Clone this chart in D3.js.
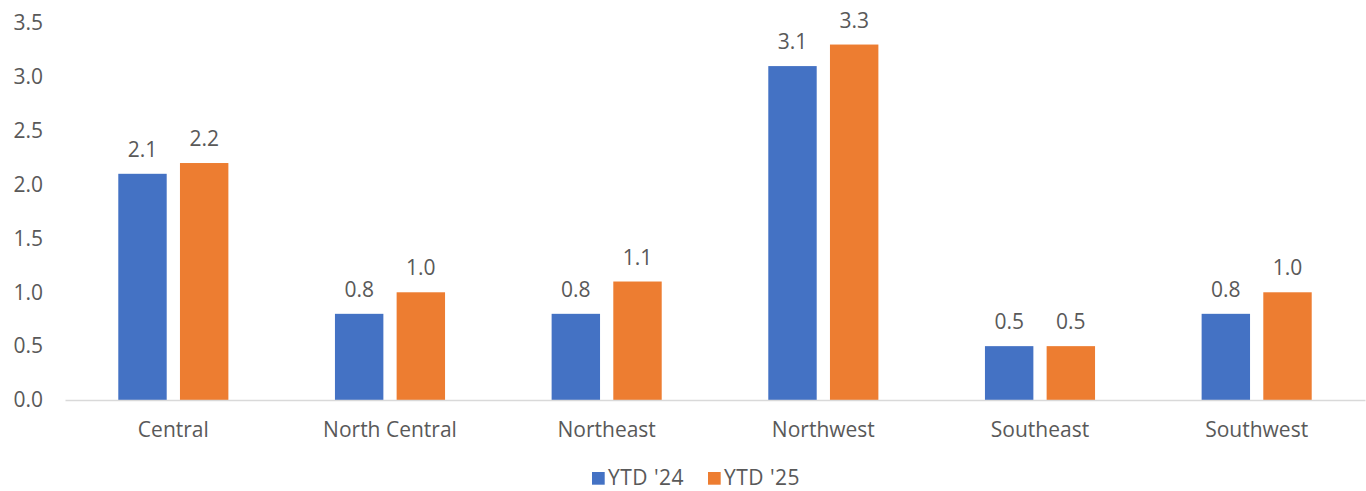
<!DOCTYPE html>
<html>
<head>
<meta charset="utf-8">
<script src="https://cdn.jsdelivr.net/npm/d3@7"></script>
<style>
    body { margin: 0; background: #fff; }
    text { font-family: "Open Sans", sans-serif; fill: #595959; }
</style>
</head>
<body>
<div class="chart"></div>
<script>
// data
const regions = ["Central", "North Central", "Northeast", "Northwest", "Southeast", "Southwest"];
const seriesNames = ["YTD '24", "YTD '25"];
const ytd24 = [2.1, 0.8, 0.8, 3.1, 0.5, 0.8];
const ytd25 = [2.2, 1.0, 1.1, 3.3, 0.5, 1.0];
const yTicks = [0, 0.5, 1, 1.5, 2, 2.5, 3, 3.5];
const colors = ["#4472C4", "#ED7D31"];

const W = 1366, H = 491;
const margin = {top: 23, right: 1, bottom: 91, left: 65};
const width = W - margin.left - margin.right;
const height = H - margin.top - margin.bottom;

const svg = d3.select(".chart").append("svg")
    .attr("width", W)
    .attr("height", H);

const g = svg.append("g")
    .attr("transform", `translate(${margin.left},${margin.top})`);

// rows for the grouped bars
const rows = regions.map((r, i) => ({region: r, values: [ytd24[i], ytd25[i]]}));

const x0 = d3.scaleBand()
    .domain(regions)
    .range([0, width]);

const x1 = d3.scaleBand()
    .domain(seriesNames)
    .range([0, x0.bandwidth()])
    .paddingInner(0.215)
    .paddingOuter(0.864);

const y = d3.scaleLinear()
    .domain([0, 3.5])
    .range([height, 0]);

const color = d3.scaleOrdinal().domain(seriesNames).range(colors);

// y axis labels, no line
const yAxis = g.append("g")
    .call(d3.axisLeft(y).tickValues(yTicks).tickFormat(d3.format(".1f")).tickSize(0).tickPadding(22));
yAxis.select(".domain").remove();
yAxis.selectAll("text")
    .style("font-family", "Open Sans, sans-serif")
    .style("font-size", "21px")
    .attr("fill", "#595959");

// bars
const groups = g.selectAll(".group")
    .data(rows)
    .enter()
    .append("g")
    .attr("class", "group")
    .attr("transform", d => `translate(${x0(d.region)},0)`);

groups.selectAll("rect")
    .data(d => d.values.map((v, i) => ({key: seriesNames[i], value: v})))
    .enter()
    .append("rect")
    .attr("x", d => x1(d.key))
    .attr("y", d => y(d.value))
    .attr("width", x1.bandwidth())
    .attr("height", d => y(0) - y(d.value))
    .attr("fill", d => color(d.key));

// data labels
groups.selectAll(".label")
    .data(d => d.values.map((v, i) => ({key: seriesNames[i], value: v})))
    .enter()
    .append("text")
    .attr("class", "label")
    .attr("x", d => x1(d.key) + x1.bandwidth() / 2)
    .attr("y", d => y(d.value) - 17)
    .attr("text-anchor", "middle")
    .style("font-size", "21px")
    .text(d => d3.format(".1f")(d.value));

// x axis
const xAxis = g.append("g")
    .attr("transform", `translate(0,${height})`)
    .call(d3.axisBottom(x0).tickSize(0).tickPadding(22));
xAxis.select(".domain").attr("stroke", "#d9d9d9").attr("stroke-width", 1.3);
xAxis.selectAll("text")
    .style("font-family", "Open Sans, sans-serif")
    .style("font-size", "21px")
    .attr("fill", "#595959");

// legend
const legend = svg.append("g")
    .attr("transform", "translate(592,472)");

const items = legend.selectAll(".item")
    .data(seriesNames)
    .enter()
    .append("g")
    .attr("class", "item")
    .attr("transform", (d, i) => `translate(${i * 116},0)`);

items.append("rect")
    .attr("width", 12.7)
    .attr("height", 12.7)
    .attr("fill", d => color(d));

items.append("text")
    .attr("x", 16)
    .attr("y", 13)
    .style("font-size", "21px")
    .style("letter-spacing", "0.5px")
    .text(d => d);
</script>
</body>
</html>
